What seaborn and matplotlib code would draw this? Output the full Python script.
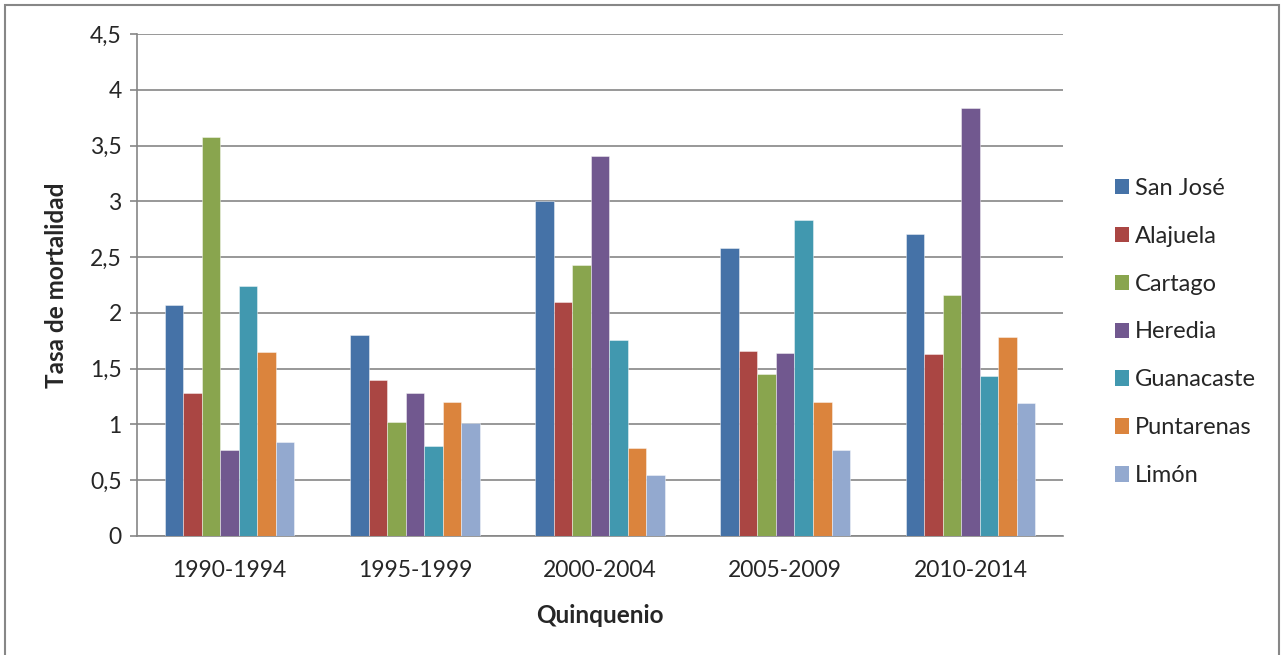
import matplotlib
matplotlib.use("Agg")
import matplotlib.pyplot as plt
from matplotlib.patches import Rectangle, Patch
import seaborn as sns
import pandas as pd

# datos
quinquenios = ["1990-1994", "1995-1999", "2000-2004", "2005-2009", "2010-2014"]
provincias = ["San José", "Alajuela", "Cartago", "Heredia", "Guanacaste", "Puntarenas", "Limón"]
san_jose = [2.07, 1.80, 3.00, 2.58, 2.71]
alajuela = [1.28, 1.40, 2.10, 1.66, 1.63]
cartago = [3.58, 1.02, 2.43, 1.45, 2.16]
heredia = [0.77, 1.28, 3.41, 1.64, 3.84]
guanacaste = [2.24, 0.81, 1.76, 2.83, 1.43]
puntarenas = [1.65, 1.20, 0.79, 1.20, 1.78]
limon = [0.84, 1.01, 0.55, 0.77, 1.19]
y_ticks = [0, 0.5, 1, 1.5, 2, 2.5, 3, 3.5, 4, 4.5]
y_tick_labels = ["0", "0,5", "1", "1,5", "2", "2,5", "3", "3,5", "4", "4,5"]

colores = ["#4572A7", "#AA4643", "#89A54E", "#71588F", "#4198AF", "#DB843D", "#93A9CF"]

series = [san_jose, alajuela, cartago, heredia, guanacaste, puntarenas, limon]
rows = []
for prov, vals in zip(provincias, series):
    for q, v in zip(quinquenios, vals):
        rows.append({"quinquenio": q, "provincia": prov, "tasa": v})
df = pd.DataFrame(rows)

sns.set_style("white")
plt.rcParams["font.family"] = ["Lato", "DejaVu Sans"]

fig = plt.figure(figsize=(12.85, 6.55), dpi=100)
ax = fig.add_axes([137 / 1285, 1 - 536 / 655, (1063 - 137) / 1285, (536 - 34) / 655])

sns.barplot(data=df, x="quinquenio", y="tasa", hue="provincia", order=quinquenios,
            hue_order=provincias, palette=colores, saturation=1, width=0.7,
            edgecolor=(1, 1, 1, 0.5), linewidth=0.6, ax=ax, legend=False, zorder=3)

grid_c = "#868686"
ax.set_ylim(0, 4.5)
ax.set_xlim(-0.5, 4.5)
ax.set_yticks(y_ticks)
ax.set_yticklabels(y_tick_labels)
ax.yaxis.grid(True, color=grid_c, linewidth=1.2, zorder=0)
ax.set_axisbelow(True)
for s in ["top", "right"]:
    ax.spines[s].set_visible(False)
for s in ["left", "bottom"]:
    ax.spines[s].set_color(grid_c)
    ax.spines[s].set_linewidth(1.2)
ax.tick_params(axis="y", direction="out", length=5, width=1.2, color=grid_c,
               labelsize=16.5, pad=6, left=True)
ax.tick_params(axis="x", length=0, labelsize=16.5, pad=17)

ax.set_xlabel("Quinquenio", fontsize=17.5, fontweight="bold", labelpad=17)
ax.set_ylabel("Tasa de mortalidad", fontsize=17.5, fontweight="bold", labelpad=16)

handles = [Patch(facecolor=c, edgecolor="none") for c in colores]
fig.legend(handles, provincias, loc="center left", bbox_to_anchor=(1103 / 1285, 1 - 332 / 655),
           frameon=False, fontsize=17, handlelength=0.62, handleheight=0.62,
           handletextpad=0.25, labelspacing=1.14, borderpad=0)

fig.patches.append(Rectangle((5 / 1285, -0.05), (1279 - 5) / 1285, 1.05 - 5 / 655,
                             transform=fig.transFigure, fill=False,
                             edgecolor="#878787", linewidth=1.5))

fig.savefig("out.png", dpi=100, facecolor="white")
